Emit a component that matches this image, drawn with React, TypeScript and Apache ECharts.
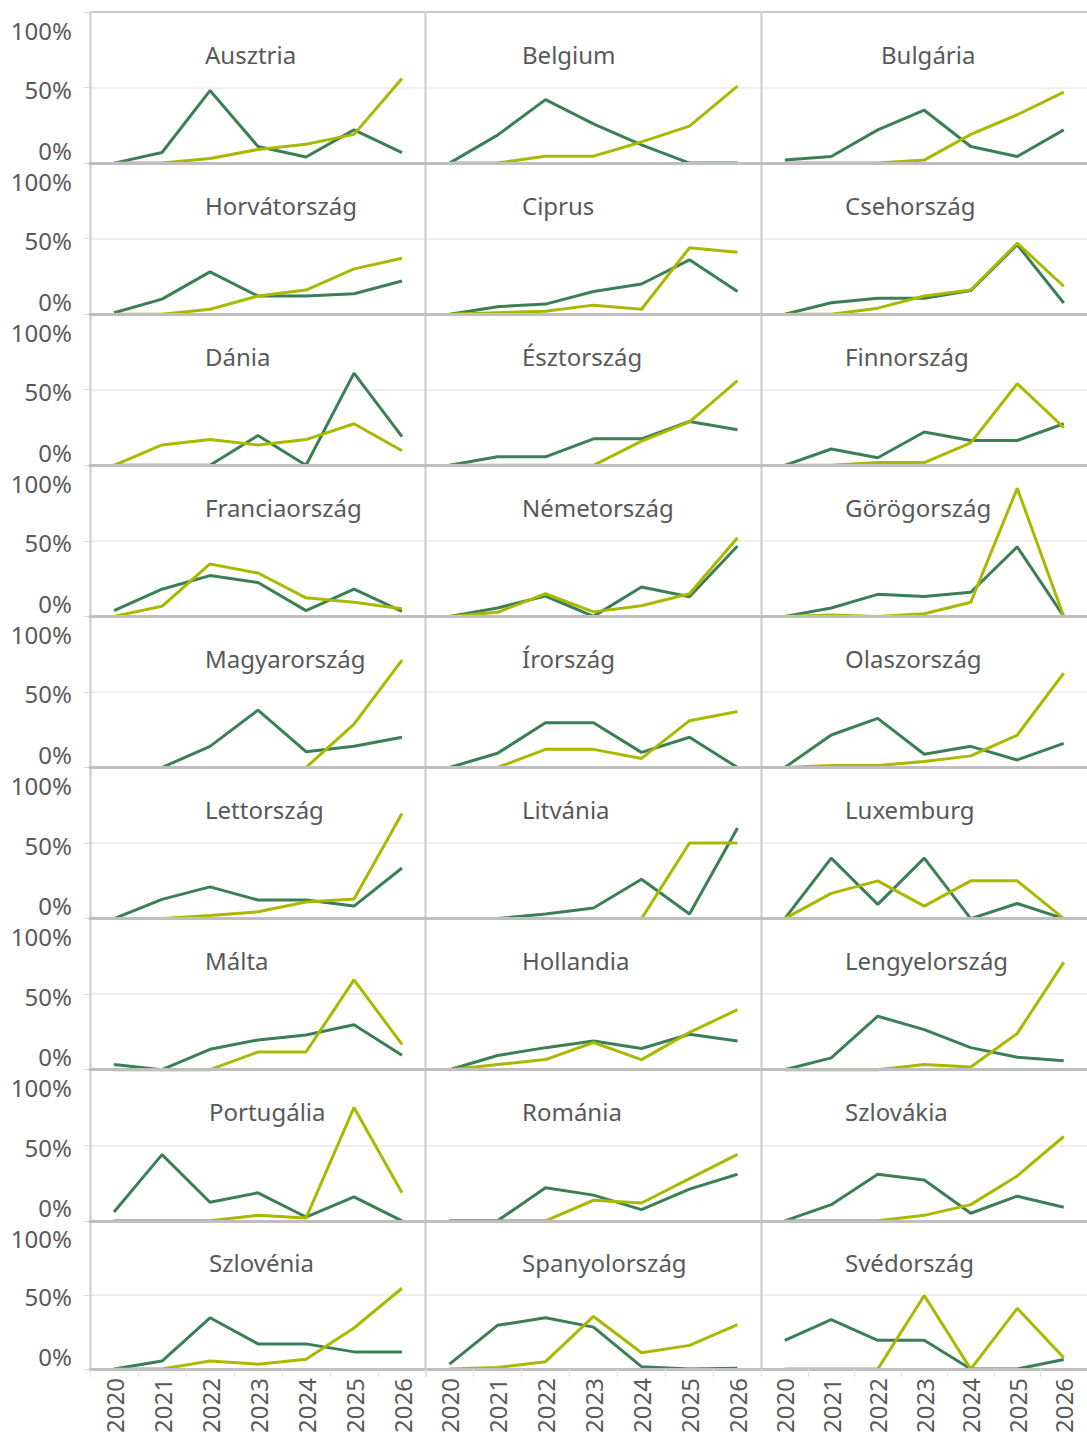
import React, { useEffect, useRef } from "react";
import * as echarts from "echarts";

const years = ["2020", "2021", "2022", "2023", "2024", "2025", "2026"];

const countries = [
  "Ausztria", "Belgium", "Bulgária",
  "Horvátország", "Ciprus", "Csehország",
  "Dánia", "Észtország", "Finnország",
  "Franciaország", "Németország", "Görögország",
  "Magyarország", "Írország", "Olaszország",
  "Lettország", "Litvánia", "Luxemburg",
  "Málta", "Hollandia", "Lengyelország",
  "Portugália", "Románia", "Szlovákia",
  "Szlovénia", "Spanyolország", "Svédország",
];

// dark green series (%), per country in the order above
const darkValues = [
  [0, 7, 48, 11, 4, 22, 7],
  [0, 18.5, 42, 26, 12, 0, 0],
  [2, 4.4, 22, 35, 11, 4.4, 22],
  [1, 10, 28, 12, 12, 13.5, 22],
  [0, 5, 6.7, 15, 20, 36, 15],
  [0, 7.6, 10.5, 10.5, 15.6, 46, 7.4],
  [0, 0, 0, 19.7, 0, 61, 19],
  [0, 5.6, 5.6, 17.5, 17.5, 29, 23.5],
  [0, 10.8, 5, 22, 16.4, 16.4, 27.5],
  [3.8, 18, 27, 22.4, 3.8, 18, 3.4],
  [0, 5.6, 13.5, 0, 19.5, 13, 46.6],
  [0, 5.6, 14.6, 13.2, 16, 46, 0],
  [0, 0, 14, 38, 10.5, 14, 20],
  [0, 9.4, 29.6, 29.6, 10, 20, 0],
  [0, 21.5, 32.5, 8.8, 14, 5, 16],
  [0, 12.7, 21, 12.3, 12.3, 8.3, 33.5],
  [0, 0, 3, 7, 26, 3, 60],
  [0, 40, 9.4, 40, 0, 10, 0],
  [3.4, 0, 13.5, 19.7, 23, 29.8, 9.6],
  [0, 9.4, 14.6, 19, 14, 23.5, 19],
  [0, 7.8, 35.4, 26.5, 14.6, 8.3, 6],
  [5.8, 43.8, 12.3, 18.5, 2.5, 15.8, 0],
  [0, 0, 21.9, 17, 7.4, 21, 30.8],
  [0, 10.7, 30.8, 27, 5, 16.3, 9],
  [0, 5.4, 34.6, 17, 17, 11.6, 11.6],
  [3.3, 29.5, 34.6, 28.3, 1.6, 0, 0.5],
  [19.4, 33.3, 19.4, 19.4, 0, 0, 6.5],
];

// yellow-green series (%), per country in the order above
const lightValues = [
  [0, 0, 3, 9, 12.5, 19, 56],
  [0, 0, 4.6, 4.6, 14, 24.5, 51],
  [0, 0, 0, 2, 19, 32, 47],
  [0, 0, 3.3, 12, 16, 30, 37],
  [0, 1, 2, 6, 3.3, 44, 41],
  [0, 0, 4, 12, 16, 47, 18.5],
  [0, 13.5, 17, 13.5, 17, 27.5, 9.6],
  [0, 0, 0, 0, 16, 28.7, 56],
  [0, 0, 1.8, 1.8, 14.8, 54, 25],
  [0, 6.7, 34.7, 28.7, 12.3, 9.4, 5],
  [0, 2.7, 15, 3, 7, 15, 52],
  [0, 1, 0, 1.8, 9.4, 84.8, 0],
  [0, 0, 0, 0, 0, 28.7, 71],
  [0, 0, 12, 12, 6, 31, 37],
  [0, 1.3, 1.3, 4, 7.7, 21.5, 62.5],
  [0, 0, 2, 4.5, 11, 13, 69.6],
  [0, 0, 0, 0, 0, 50, 50],
  [0, 16.7, 25, 8.3, 25, 25, 0],
  [0, 0, 0, 11.7, 11.7, 59.4, 16.8],
  [0, 3.4, 6.7, 18, 6.7, 24.7, 39.7],
  [0, 0, 0, 3.4, 1.8, 24, 71],
  [0, 0, 0, 3.6, 1.8, 75, 18.5],
  [0, 0, 0, 13.6, 11.8, 27.9, 44],
  [0, 0, 0, 3.6, 10.7, 29.7, 55.8],
  [0, 0, 5.4, 3.3, 6.7, 27.7, 54.5],
  [0, 1, 5, 35.5, 11, 16, 30],
  [0, 0, 0, 49.6, 0, 41, 7.6],
];

const yTickLabels: Record<number, string> = { 0: "0%", 50: "50%", 100: "100%" };

const DARK = "#3b7f56";
const LIGHT = "#a8b900";
const TEXT = "#595959";
const FONT = "Noto Sans";
const FS = 24;

const COL_LEFT = [90, 425.5, 761.5];
const COL_W = 336;
const ROW_TOP = 12;
const ROW_H = 151.1;
const TITLE_LEFT = [205, 522, 845];
const titleLeftOverride: Record<string, number> = { "Bulgária": 881, "Portugália": 209, "Szlovénia": 209 };

export default function App() {
  const ref = useRef<HTMLDivElement>(null);

  useEffect(() => {
    if (!ref.current) return;
    const chart = echarts.init(ref.current, undefined, { renderer: "svg" });
    const nRows = Math.ceil(countries.length / 3);

    const grids: any[] = [];
    const xAxes: any[] = [];
    const yAxes: any[] = [];
    const series: any[] = [];
    const titles: any[] = [];

    countries.forEach((name, i) => {
      const row = Math.floor(i / 3);
      const col = i % 3;
      const top = ROW_TOP + row * ROW_H;
      const isBottom = row === nRows - 1;
      grids.push({ left: COL_LEFT[col], top, width: COL_W, height: ROW_H, containLabel: false });
      xAxes.push({
        type: "category",
        gridIndex: i,
        data: years,
        boundaryGap: true,
        z: 3,
        axisLine: { show: true, lineStyle: { color: "#bfbfbf", width: 3 } },
        axisTick: { show: isBottom, length: 8, lineStyle: { color: "#e2e2e2", width: 1 } },
        axisLabel: {
          show: isBottom,
          rotate: 90,
          fontSize: FS,
          color: TEXT,
          fontFamily: FONT,
          margin: 9,
        },
        splitLine: { show: false },
      });
      yAxes.push({
        type: "value",
        gridIndex: i,
        min: 0,
        max: 100,
        interval: 50,
        axisLine: { show: true, lineStyle: { color: "#d4d4d4", width: 2.5 } },
        axisTick: { show: col === 0, length: 6, lineStyle: { color: "#d9d9d9", width: 1 } },
        axisLabel: {
          show: col === 0,
          margin: 18,
          fontFamily: FONT,
          fontSize: FS,
          color: TEXT,
          formatter: (v: number) => {
            const t = yTickLabels[v] ?? "";
            if (v === 100) return `{a|${t}}`;
            if (v === 50) return `{b|${t}}`;
            return `{c|${t}}`;
          },
          rich: {
            a: { fontSize: FS, color: TEXT, fontFamily: FONT, padding: [36, 0, 0, 0] },
            b: { fontSize: FS, color: TEXT, fontFamily: FONT, padding: [4, 0, 0, 0] },
            c: { fontSize: FS, color: TEXT, fontFamily: FONT, padding: [0, 0, 26, 0] },
          },
        },
        splitLine: {
          show: true,
          lineStyle: { color: ["rgba(0,0,0,0)", "#efefef", "#c8c8c8"], width: 2 },
        },
      });
      series.push({
        type: "line",
        name: name + " A",
        xAxisIndex: i,
        yAxisIndex: i,
        data: darkValues[i],
        symbol: "none",
        clip: false,
        lineStyle: { color: DARK, width: 3 },
        itemStyle: { color: DARK },
        z: 2,
      });
      series.push({
        type: "line",
        name: name + " B",
        xAxisIndex: i,
        yAxisIndex: i,
        data: lightValues[i],
        symbol: "none",
        clip: false,
        lineStyle: { color: LIGHT, width: 3 },
        itemStyle: { color: LIGHT },
        z: 2,
      });
      titles.push({
        text: name,
        left: titleLeftOverride[name] ?? TITLE_LEFT[col],
        top: top + 30,
        padding: 0,
        textStyle: { fontSize: FS, fontWeight: "normal", color: TEXT, fontFamily: FONT },
      });
    });

    chart.setOption({
      animation: false,
      backgroundColor: "#ffffff",
      textStyle: { fontFamily: FONT },
      title: titles,
      grid: grids,
      xAxis: xAxes,
      yAxis: yAxes,
      series,
    });

    return () => chart.dispose();
  }, []);

  return (
    <div
      ref={ref}
      style={{ position: "absolute", left: 0, top: 0, width: 1087, height: 1436, background: "#fff" }}
    />
  );
}
